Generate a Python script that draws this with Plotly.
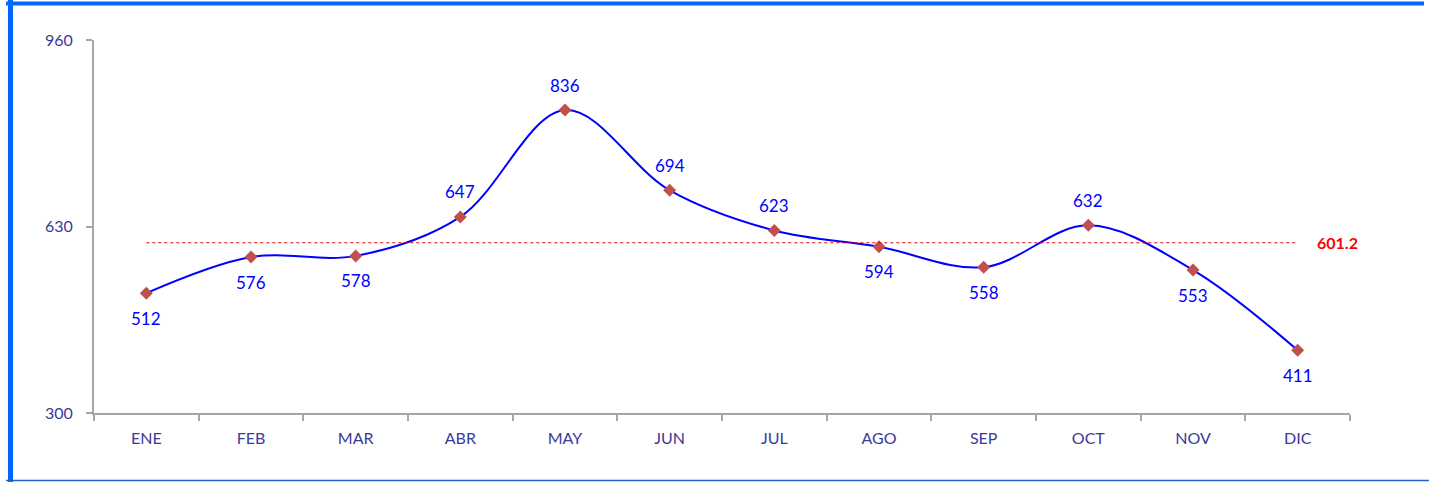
import plotly.graph_objects as go

months = ["ENE", "FEB", "MAR", "ABR", "MAY", "JUN", "JUL", "AGO", "SEP", "OCT", "NOV", "DIC"]
values = [512, 576, 578, 647, 836, 694, 623, 594, 558, 632, 553, 411]
label_side = [-1, -1, -1, 1, 1, 1, 1, -1, -1, 1, -1, -1]  # +1 above, -1 below
average = 601.2
y_ticks = [300, 630, 960]

FONT = "Lato, 'Open Sans', sans-serif"
AXIS_TXT = "#3A3A98"

fig = go.Figure()
fig.add_trace(go.Scatter(
    x=months, y=values,
    mode="lines+markers",
    line=dict(color="#0000FF", width=2, shape="spline", smoothing=1.0),
    marker=dict(symbol="diamond", size=10, color="#C0504D"),
    showlegend=False,
))

for m, v, s in zip(months, values, label_side):
    fig.add_annotation(x=m, y=v, xref="x", yref="y", text=str(v), showarrow=False,
                       yshift=25 * s, font=dict(family=FONT, size=17, color="#0000FF"))

fig.add_shape(type="line", xref="x", yref="y", x0=0, x1=11, y0=average, y1=average,
              line=dict(color="#E00000", width=1, dash="dot"))
fig.add_annotation(x=11, y=average, xref="x", yref="y", text="<b>601.2</b>", showarrow=False,
                   xanchor="left", xshift=17, font=dict(family=FONT, size=16, color="#FF0000"))

# frame borders
fig.add_shape(type="line", xref="paper", yref="paper", x0=-0.0665, x1=-0.0665, y0=-0.2, y1=1.12,
              line=dict(color="#0066FF", width=5))
fig.add_shape(type="line", xref="paper", yref="paper", x0=-0.07, x1=1.0589, y0=1.0979, y1=1.0979,
              line=dict(color="#0066FF", width=4))
fig.add_shape(type="line", xref="paper", yref="paper", x0=-0.07, x1=1.07, y0=-0.181, y1=-0.181,
              line=dict(color="#1E64C8", width=1.5))

fig.update_layout(
    width=1429, height=482,
    margin=dict(l=94, r=79, t=40, b=69),
    paper_bgcolor="white", plot_bgcolor="white",
    font=dict(family=FONT),
    xaxis=dict(
        type="category", range=[-0.5, 11.5],
        showline=True, linecolor="#A6A6A6", linewidth=2,
        ticks="outside", tickson="boundaries", ticklen=6, tickcolor="#A6A6A6", tickwidth=2,
        showgrid=False, zeroline=False,
        tickfont=dict(family=FONT, size=16, color=AXIS_TXT),
        ticklabelstandoff=10,
    ),
    yaxis=dict(
        range=[300, 960], tickvals=y_ticks,
        showline=True, linecolor="#A6A6A6", linewidth=2,
        ticks="outside", ticklen=6, tickcolor="#A6A6A6", tickwidth=2,
        showgrid=False, zeroline=False,
        tickfont=dict(family=FONT, size=16, color=AXIS_TXT),
        ticklabelstandoff=10,
    ),
)

fig.write_html("out.html", config={"displayModeBar": False},
               post_script="document.body.style.margin='0';")
